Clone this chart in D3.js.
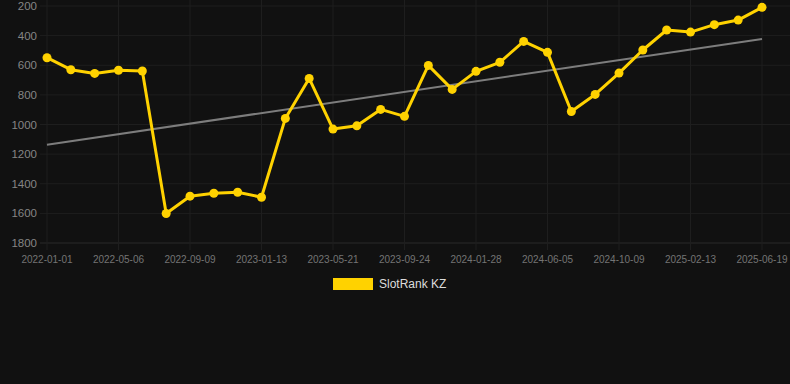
<!DOCTYPE html>
<html>
<head>
<meta charset="utf-8">
<script src="https://cdn.jsdelivr.net/npm/d3@7"></script>
<style>
  html, body { margin: 0; padding: 0; background: #111111; }
  svg { display: block; font-family: "Liberation Sans", Arial, sans-serif; }
</style>
</head>
<body>
<div id="chart"></div>
<script>
const dates = [
  "2022-01-01", "2022-02-12", "2022-03-25", "2022-05-06", "2022-06-17", "2022-07-29",
  "2022-09-09", "2022-10-21", "2022-12-02", "2023-01-13", "2023-02-25", "2023-04-08",
  "2023-05-21", "2023-07-02", "2023-08-13", "2023-09-24", "2023-11-05", "2023-12-17",
  "2024-01-28", "2024-03-11", "2024-04-23", "2024-06-05", "2024-07-17", "2024-08-28",
  "2024-10-09", "2024-11-20", "2025-01-01", "2025-02-13", "2025-03-27", "2025-05-08",
  "2025-06-19"
];
const rank = [
  549, 630, 655, 634, 639, 1601, 1484, 1464, 1457, 1491, 959, 689,
  1031, 1009, 898, 945, 601, 763, 641, 580, 439, 513, 912, 797,
  653, 497, 362, 376, 326, 295, 209
];
const trend = [1137, 423]; // trend line at first and last date
const yTicks = [200, 400, 600, 800, 1000, 1200, 1400, 1600, 1800];
const xTicks = dates.filter((d, i) => i % 3 === 0);
const seriesName = "SlotRank KZ";

const W = 790, H = 384;
const margins = {top: 6, bottom: 141, left: 47, right: 28};

const svg = d3.select('#chart').append('svg').attr('width', W).attr('height', H);
svg.append('rect').attr('width', W).attr('height', H).attr('fill', '#111111');

const x = d3.scalePoint().domain(dates).range([margins.left, W - margins.right]);
const y = d3.scaleLinear().domain([200, 1800]).range([margins.top, H - margins.bottom]);

// grid
svg.append('g').selectAll('line').data(yTicks).enter().append('line')
    .attr('x1', margins.left - 7).attr('x2', W)
    .attr('y1', d => y(d)).attr('y2', d => y(d))
    .attr('stroke', d => d === 1800 ? '#2a2a2a' : '#1e1e1e').attr('stroke-width', 1);
svg.append('g').selectAll('line').data(xTicks).enter().append('line')
    .attr('x1', d => x(d)).attr('x2', d => x(d))
    .attr('y1', 0).attr('y2', y(1800) + 7)
    .attr('stroke', '#1e1e1e').attr('stroke-width', 1);

// y labels
svg.append('g').selectAll('text').data(yTicks).enter().append('text')
    .attr('x', 37).attr('y', d => y(d)).attr('dy', '0.35em')
    .attr('text-anchor', 'end')
    .style('font-size', '11.5px').style('fill', '#858585')
    .text(d => d);

// x labels
svg.append('g').selectAll('text').data(xTicks).enter().append('text')
    .attr('x', d => x(d)).attr('y', 259).attr('dy', '0.35em')
    .attr('text-anchor', 'middle')
    .style('font-size', '10px').style('fill', '#747474')
    .text(d => d);

// trend
svg.append('line')
    .attr('x1', x(dates[0])).attr('x2', x(dates[dates.length - 1]))
    .attr('y1', y(trend[0])).attr('y2', y(trend[1]))
    .attr('stroke', '#7d7d7d').attr('stroke-width', 2);

const data = dates.map((d, i) => ({date: d, value: rank[i]}));
const yellow = '#ffd200';

svg.append('path')
    .datum(data)
    .attr('fill', 'none')
    .attr('stroke', yellow)
    .attr('stroke-width', 3)
    .attr('stroke-linejoin', 'round')
    .attr('d', d3.line().x(d => x(d.date)).y(d => y(d.value)));

svg.selectAll('.dot').data(data).enter().append('circle')
    .attr('class', 'dot')
    .attr('cx', d => x(d.date)).attr('cy', d => y(d.value))
    .attr('r', 4.5).attr('fill', yellow);

// legend
const legend = svg.append('g');
legend.append('rect').attr('x', 333).attr('y', 278).attr('width', 40).attr('height', 12).attr('fill', yellow);
legend.append('text').attr('x', 379).attr('y', 284).attr('dy', '0.35em')
    .style('font-size', '12px').style('fill', '#dddddd').text(seriesName);
</script>
</body>
</html>
